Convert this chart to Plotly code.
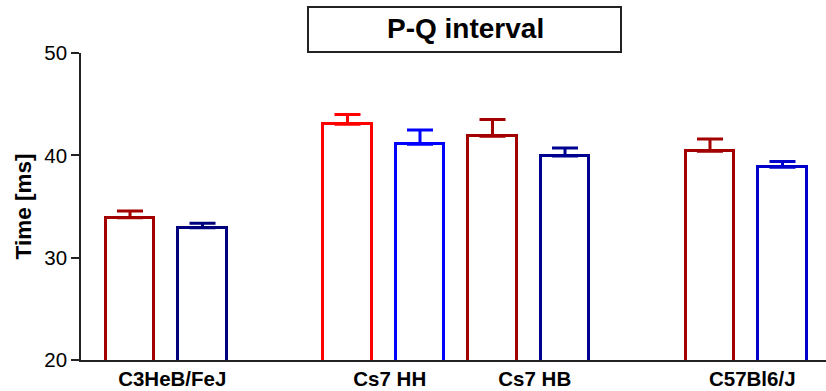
import plotly.graph_objects as go

# Data
groups = ["C3HeB/FeJ", "Cs7 HH", "Cs7 HB", "C57Bl6/J"]
slots = [0, 1, 3, 4, 5, 6, 8, 9]
means = [33.9, 32.93, 43.03, 41.08, 41.86, 39.94, 40.4, 38.84]
sem = [0.66, 0.43, 0.97, 1.39, 1.63, 0.78, 1.2, 0.56]
colors = ["#A30000", "#00007F", "#FF0000", "#0000FF", "#A30000", "#000090", "#A30000", "#0000CC"]
group_centers = [0.5, 3.5, 5.5, 8.5]

fig = go.Figure()
for x, m, e, c in zip(slots, means, sem, colors):
    fig.add_trace(go.Bar(
        x=[x], y=[m], width=0.67,
        marker=dict(color="white", line=dict(color=c, width=3)),
        error_y=dict(type="data", symmetric=False, array=[e], arrayminus=[0],
                     color=c, thickness=3, width=13),
        showlegend=False,
    ))

W, H = 826, 391
ml, mr, mt, mb = 81, 0, 53, 31
pw = W - ml - mr
ph = H - mt - mb

def px(xp):
    return (xp - ml) / pw

def py(yp):
    return (H - mb - yp) / ph

fig.add_shape(type="rect", xref="paper", yref="paper",
              x0=px(308), x1=px(621), y0=py(52), y1=py(7),
              line=dict(color="#222222", width=2), fillcolor="white")
fig.add_annotation(text="<b>P-Q interval</b>", xref="paper", yref="paper",
                   x=px(465), y=py(29), showarrow=False,
                   font=dict(size=28, color="black"), xanchor="center", yanchor="middle")

fig.update_layout(
    width=W, height=H,
    margin=dict(l=ml, r=mr, t=mt, b=mb, pad=0),
    paper_bgcolor="white", plot_bgcolor="white",
    font=dict(family="Liberation Sans, Arial, sans-serif", color="black"),
    bargap=0,
)
fig.update_xaxes(
    range=[-0.676, 9.6], tickvals=group_centers,
    ticktext=[f"<b>{g}</b>" for g in groups],
    tickfont=dict(size=20.5), ticks="", showgrid=False, zeroline=False,
    showline=True, linecolor="#222222", linewidth=1.5, ticklabelshift=6,
)
fig.update_yaxes(
    range=[20, 50], tickvals=[20, 30, 40, 50], ticks="outside", ticklen=8,
    tickwidth=1.5, tickcolor="#222222", tickfont=dict(size=20.5),
    showgrid=False, zeroline=False, showline=True, linecolor="#222222", linewidth=1.5,
    title=dict(text="<b>Time [ms]</b>", font=dict(size=22.5), standoff=6),
)

fig.write_html("out.html")
